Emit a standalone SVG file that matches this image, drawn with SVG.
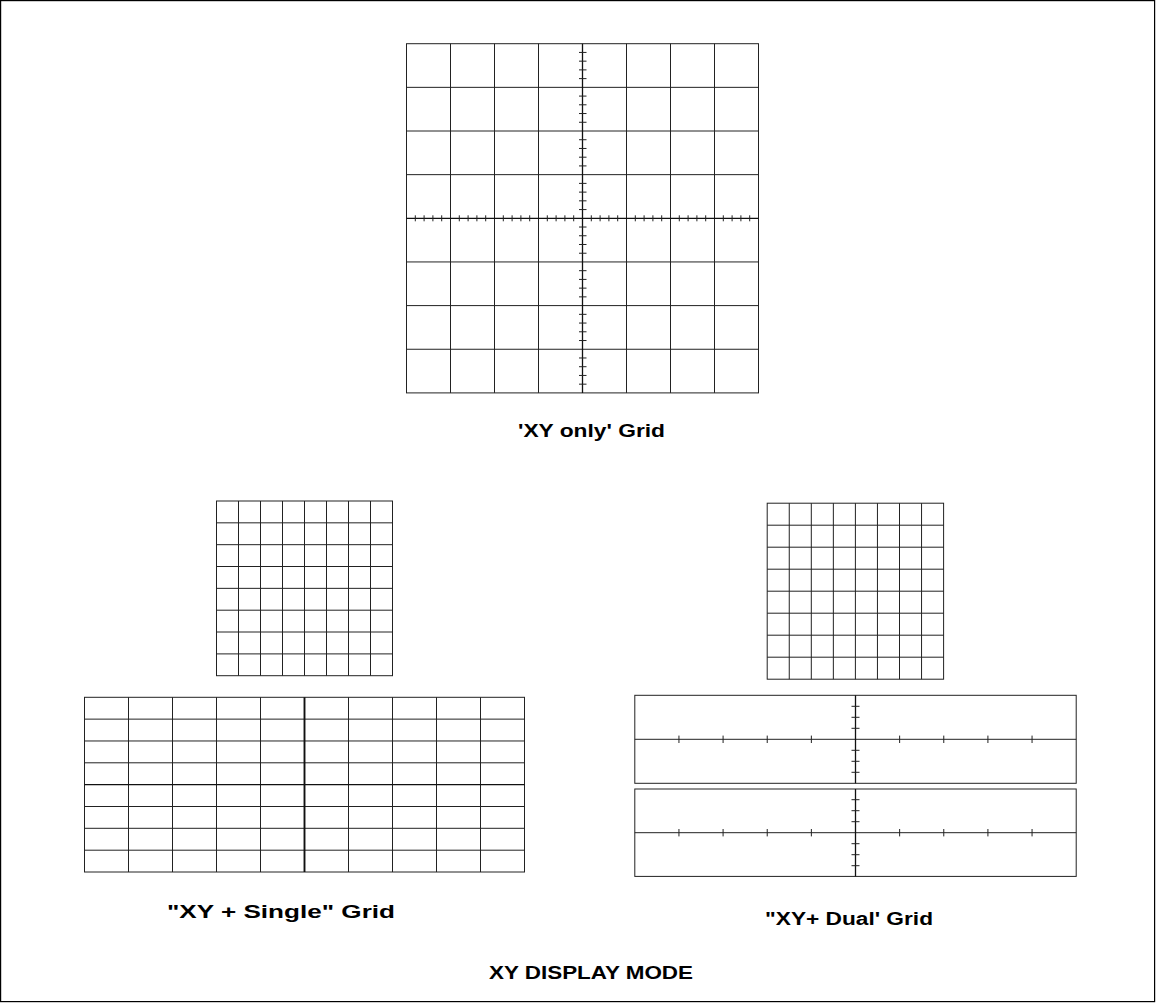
<svg xmlns="http://www.w3.org/2000/svg" width="1156" height="1003" viewBox="0 0 1156 1003">
<style>
.bg{fill:#fff}
.frame{fill:none;stroke:#000;stroke-width:1.2}
.box{fill:#fff;stroke:#222;stroke-width:1}
.ln{fill:none;stroke:#222;stroke-width:1}
.ax{fill:none;stroke:#111;stroke-width:1.3}
.thk{fill:none;stroke:#111;stroke-width:1.9}
.lbl{font-family:"Liberation Sans",Arial,sans-serif;font-weight:bold;font-size:18px;fill:#000}
</style>
<rect class="bg" x="0" y="0" width="1156" height="1003"/>
<rect class="frame" x="0.6" y="0.6" width="1154" height="1001"/>

<g id="xy-only-grid">
<rect class="box" x="406.5" y="43.7" width="352" height="349.2"/>
<path class="ln" d="M450.5 43.7V392.9M494.5 43.7V392.9M538.5 43.7V392.9M626.5 43.7V392.9M670.5 43.7V392.9M714.5 43.7V392.9M406.5 87.35H758.5M406.5 131H758.5M406.5 174.65H758.5M406.5 261.95H758.5M406.5 305.6H758.5M406.5 349.25H758.5"/>
<path class="ax" d="M582.5 43.7V392.9M406.5 218.3H758.5"/>
<path class="ln" d="M415.3 215.3v6M424.1 215.3v6M432.9 215.3v6M441.7 215.3v6M459.3 215.3v6M468.1 215.3v6M476.9 215.3v6M485.7 215.3v6M503.3 215.3v6M512.1 215.3v6M520.9 215.3v6M529.7 215.3v6M547.3 215.3v6M556.1 215.3v6M564.9 215.3v6M573.7 215.3v6M591.3 215.3v6M600.1 215.3v6M608.9 215.3v6M617.7 215.3v6M635.3 215.3v6M644.1 215.3v6M652.9 215.3v6M661.7 215.3v6M679.3 215.3v6M688.1 215.3v6M696.9 215.3v6M705.7 215.3v6M723.3 215.3v6M732.1 215.3v6M740.9 215.3v6M749.7 215.3v6"/>
<path class="ln" d="M579 52.43h7.5M579 61.16h7.5M579 69.89h7.5M579 78.62h7.5M579 96.08h7.5M579 104.81h7.5M579 113.54h7.5M579 122.27h7.5M579 139.73h7.5M579 148.46h7.5M579 157.19h7.5M579 165.92h7.5M579 183.38h7.5M579 192.11h7.5M579 200.84h7.5M579 209.57h7.5M579 227.03h7.5M579 235.76h7.5M579 244.49h7.5M579 253.22h7.5M579 270.68h7.5M579 279.41h7.5M579 288.14h7.5M579 296.87h7.5M579 314.33h7.5M579 323.06h7.5M579 331.79h7.5M579 340.52h7.5M579 357.98h7.5M579 366.71h7.5M579 375.44h7.5M579 384.17h7.5"/>
</g>
<text id="label-xy-only" class="lbl" x="518" y="437" textLength="147" lengthAdjust="spacingAndGlyphs">'XY only' Grid</text>

<g id="xy-single-small-grid">
<rect class="box" x="216.5" y="501" width="176" height="174.7"/>
<path class="ln" d="M238.5 501V675.7M260.5 501V675.7M282.5 501V675.7M304.5 501V675.7M326.5 501V675.7M348.5 501V675.7M370.5 501V675.7M216.5 522.84H392.5M216.5 544.68H392.5M216.5 566.5H392.5M216.5 588.35H392.5M216.5 610.2H392.5M216.5 632H392.5M216.5 653.9H392.5"/>
</g>

<g id="xy-single-wide-grid">
<rect class="box" x="84.5" y="697.3" width="440" height="174.7"/>
<path class="ln" d="M128.5 697.3V872M172.5 697.3V872M216.5 697.3V872M260.5 697.3V872M348.5 697.3V872M392.5 697.3V872M436.5 697.3V872M480.5 697.3V872M84.5 719.14H524.5M84.5 740.98H524.5M84.5 762.8H524.5M84.5 806.5H524.5M84.5 828.3H524.5M84.5 850.2H524.5"/>
<path class="ax" d="M84.5 784.65H524.5"/>
<path class="thk" d="M304.5 697.3V872"/>
</g>
<text id="label-xy-single" class="lbl" x="167" y="918" textLength="228" lengthAdjust="spacingAndGlyphs">"XY + Single" Grid</text>

<g id="xy-dual-small-grid">
<rect class="box" x="767.2" y="503.2" width="176.4" height="176"/>
<path class="ln" d="M789.25 503.2V679.2M811.3 503.2V679.2M833.35 503.2V679.2M855.4 503.2V679.2M877.45 503.2V679.2M899.5 503.2V679.2M921.55 503.2V679.2M767.2 525.2H943.6M767.2 547.2H943.6M767.2 569.2H943.6M767.2 591.2H943.6M767.2 613.2H943.6M767.2 635.2H943.6M767.2 657.2H943.6"/>
</g>

<g id="xy-dual-panel-1">
<rect class="box" x="634.8" y="695.3" width="441.4" height="88"/>
<path class="ln" d="M634.8 739.3H1076.2"/>
<path class="ax" d="M855.5 695.3V783.3"/>
<path class="ln" d="M678.94 735.6v7.4M723.08 735.6v7.4M767.22 735.6v7.4M811.36 735.6v7.4M899.64 735.6v7.4M943.78 735.6v7.4M987.92 735.6v7.4M1032.06 735.6v7.4M851.5 706.3h8M851.5 717.3h8M851.5 728.3h8M851.5 750.3h8M851.5 761.3h8M851.5 772.3h8"/>
</g>

<g id="xy-dual-panel-2">
<rect class="box" x="634.8" y="789" width="441.4" height="87.4"/>
<path class="ln" d="M634.8 832.7H1076.2"/>
<path class="ax" d="M855.5 789V876.4"/>
<path class="ln" d="M678.94 829v7.4M723.08 829v7.4M767.22 829v7.4M811.36 829v7.4M899.64 829v7.4M943.78 829v7.4M987.92 829v7.4M1032.06 829v7.4M851.5 799.7h8M851.5 810.7h8M851.5 821.7h8M851.5 843.7h8M851.5 854.7h8M851.5 865.7h8"/>
</g>
<text id="label-xy-dual" class="lbl" x="765" y="925" textLength="168" lengthAdjust="spacingAndGlyphs">"XY+ Dual' Grid</text>

<text id="title" class="lbl" x="489" y="979" textLength="204" lengthAdjust="spacingAndGlyphs" style="font-size:19px">XY DISPLAY MODE</text>
</svg>
